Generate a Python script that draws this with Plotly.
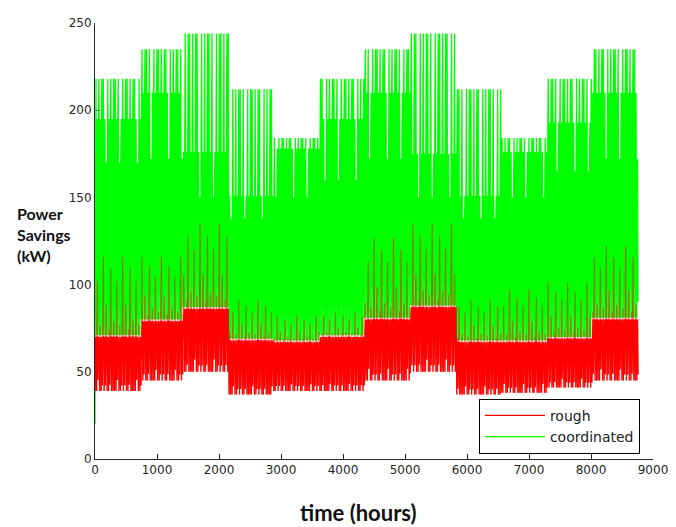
import plotly.graph_objects as go
import numpy as np

# hours in each month of the year (the steps in the chart)
month_hours = [744, 672, 744, 720, 744, 720, 744, 744, 720, 744, 720, 744]

# coordinated savings, per month (kW): daily minimum, low days, normal days, peak days
green_low = [71, 80, 87, 69, 68, 71, 81, 88, 68, 68, 70, 81]
green_dip = [170, 172, 150, 138, 150, 160, 172, 150, 138, 150, 165, 172]
green_mid = [195, 210, 176, 151, 178, 195, 210, 175, 151, 176, 193, 210]
green_peak = [218, 235, 244, 212, 184, 218, 235, 244, 212, 184, 218, 235]

# rough savings, per month (kW): daily minimum, normal top, spike top
red_low = [39, 45, 50, 37, 39, 39, 45, 50, 37, 38, 41, 45]
red_top = [70, 79, 86, 68, 67, 70, 80, 87, 67, 67, 69, 80]
red_peak = [116, 116, 135, 91, 82, 84, 127, 135, 91, 97, 101, 122]

# shape of one day (0 = night minimum, 1 = daily maximum)
hour_shape = [0.05, 0, 0, 0, 0.05, 0.2, 0.5, 0.8, 0.95, 1, 1, 0.95,
              0.9, 0.95, 1, 1, 0.95, 0.85, 0.7, 0.55, 0.4, 0.3, 0.2, 0.1]

# day to day pattern seen in the streaks
green_day_code = [2, 1, 2, 1, 2, 2, 1, 0, 2, 1, 2, 1, 2, 2, 1, 2, 0, 1, 2, 1, 2]
red_spike = [0, 0.7, 0, 0.15, 0, 1.0, 0, 0.4, 0, 0.1, 0.85, 0, 0.2]
red_lift = [0, 0, 0.6, 0, 0, 0.3, 0, 0.5, 0, 0, 0.3, 0, 0]

green_start = 20
red_start = 46

green = []
red = []
red_cap = []
day = 0
for m, hours in enumerate(month_hours):
    for d in range(hours // 24):
        code = green_day_code[day % len(green_day_code)]
        gmax = [green_dip[m], green_mid[m], green_peak[m]][code]
        rmax = red_top[m] + red_spike[day % len(red_spike)] * (red_peak[m] - red_top[m])
        rmin = red_low[m] + red_lift[day % len(red_lift)] * (red_top[m] - red_low[m])
        for h in hour_shape:
            green.append(green_low[m] + h * (gmax - green_low[m]))
            red.append(rmin + h * (rmax - rmin))
            red_cap.append(red_top[m])
        day += 1

green[0] = green_start
red[0] = red_start
t = np.arange(len(green))
red = np.array(red)
red_body = np.minimum(red, red_cap)

fig = go.Figure()
fig.add_trace(go.Scatter(x=t, y=green, mode='lines', name='coordinated',
                         line=dict(color='#00ff00', width=1.3), legendrank=2))
# solid part of the rough series, then its thin spikes drawn half see-through
fig.add_trace(go.Scatter(x=t, y=red_body, mode='lines', name='rough',
                         line=dict(color='#ff0000', width=1.2), legendrank=1))
fig.add_trace(go.Scatter(x=t, y=red, mode='lines', showlegend=False,
                         line=dict(color='#ff0000', width=1.1), opacity=0.5))

# page body adds 8px around the figure, so the figure is 8px smaller
axis_color = '#262626'
fig.update_layout(
    width=668,
    height=519,
    autosize=False,
    margin=dict(l=87, r=20, t=8, b=68),
    plot_bgcolor='white',
    paper_bgcolor='white',
    font=dict(family='DejaVu Sans', size=12, color=axis_color),
    legend=dict(x=0.688, y=0.138, xanchor='left', yanchor='top',
                bgcolor='white', bordercolor='black', borderwidth=1,
                font=dict(size=14, color='#222'), itemwidth=60),
    annotations=[
        dict(text='<b>Power<br>Savings<br>(kW)</b>', xref='paper', yref='paper',
             x=-0.143, y=0.514, xanchor='left', yanchor='middle', align='left',
             showarrow=False, font=dict(family='Lato', size=16, color='#111')),
        dict(text='<b>time (hours)</b>', xref='paper', yref='paper',
             x=0.472, y=-0.122, xanchor='center', yanchor='middle',
             showarrow=False, font=dict(family='Lato', size=22, color='#111')),
    ],
)
fig.update_xaxes(range=[0, 9000], dtick=1000, tick0=0, ticks='inside', ticklen=5,
                 showline=True, linecolor=axis_color, linewidth=1, showgrid=False,
                 zeroline=False, tickcolor=axis_color)
fig.update_yaxes(range=[0, 250], dtick=50, tick0=0, ticks='inside', ticklen=5,
                 showline=True, linecolor=axis_color, linewidth=1, showgrid=False,
                 zeroline=False, tickcolor=axis_color, layer='below traces')

fig.write_html("out.html")
